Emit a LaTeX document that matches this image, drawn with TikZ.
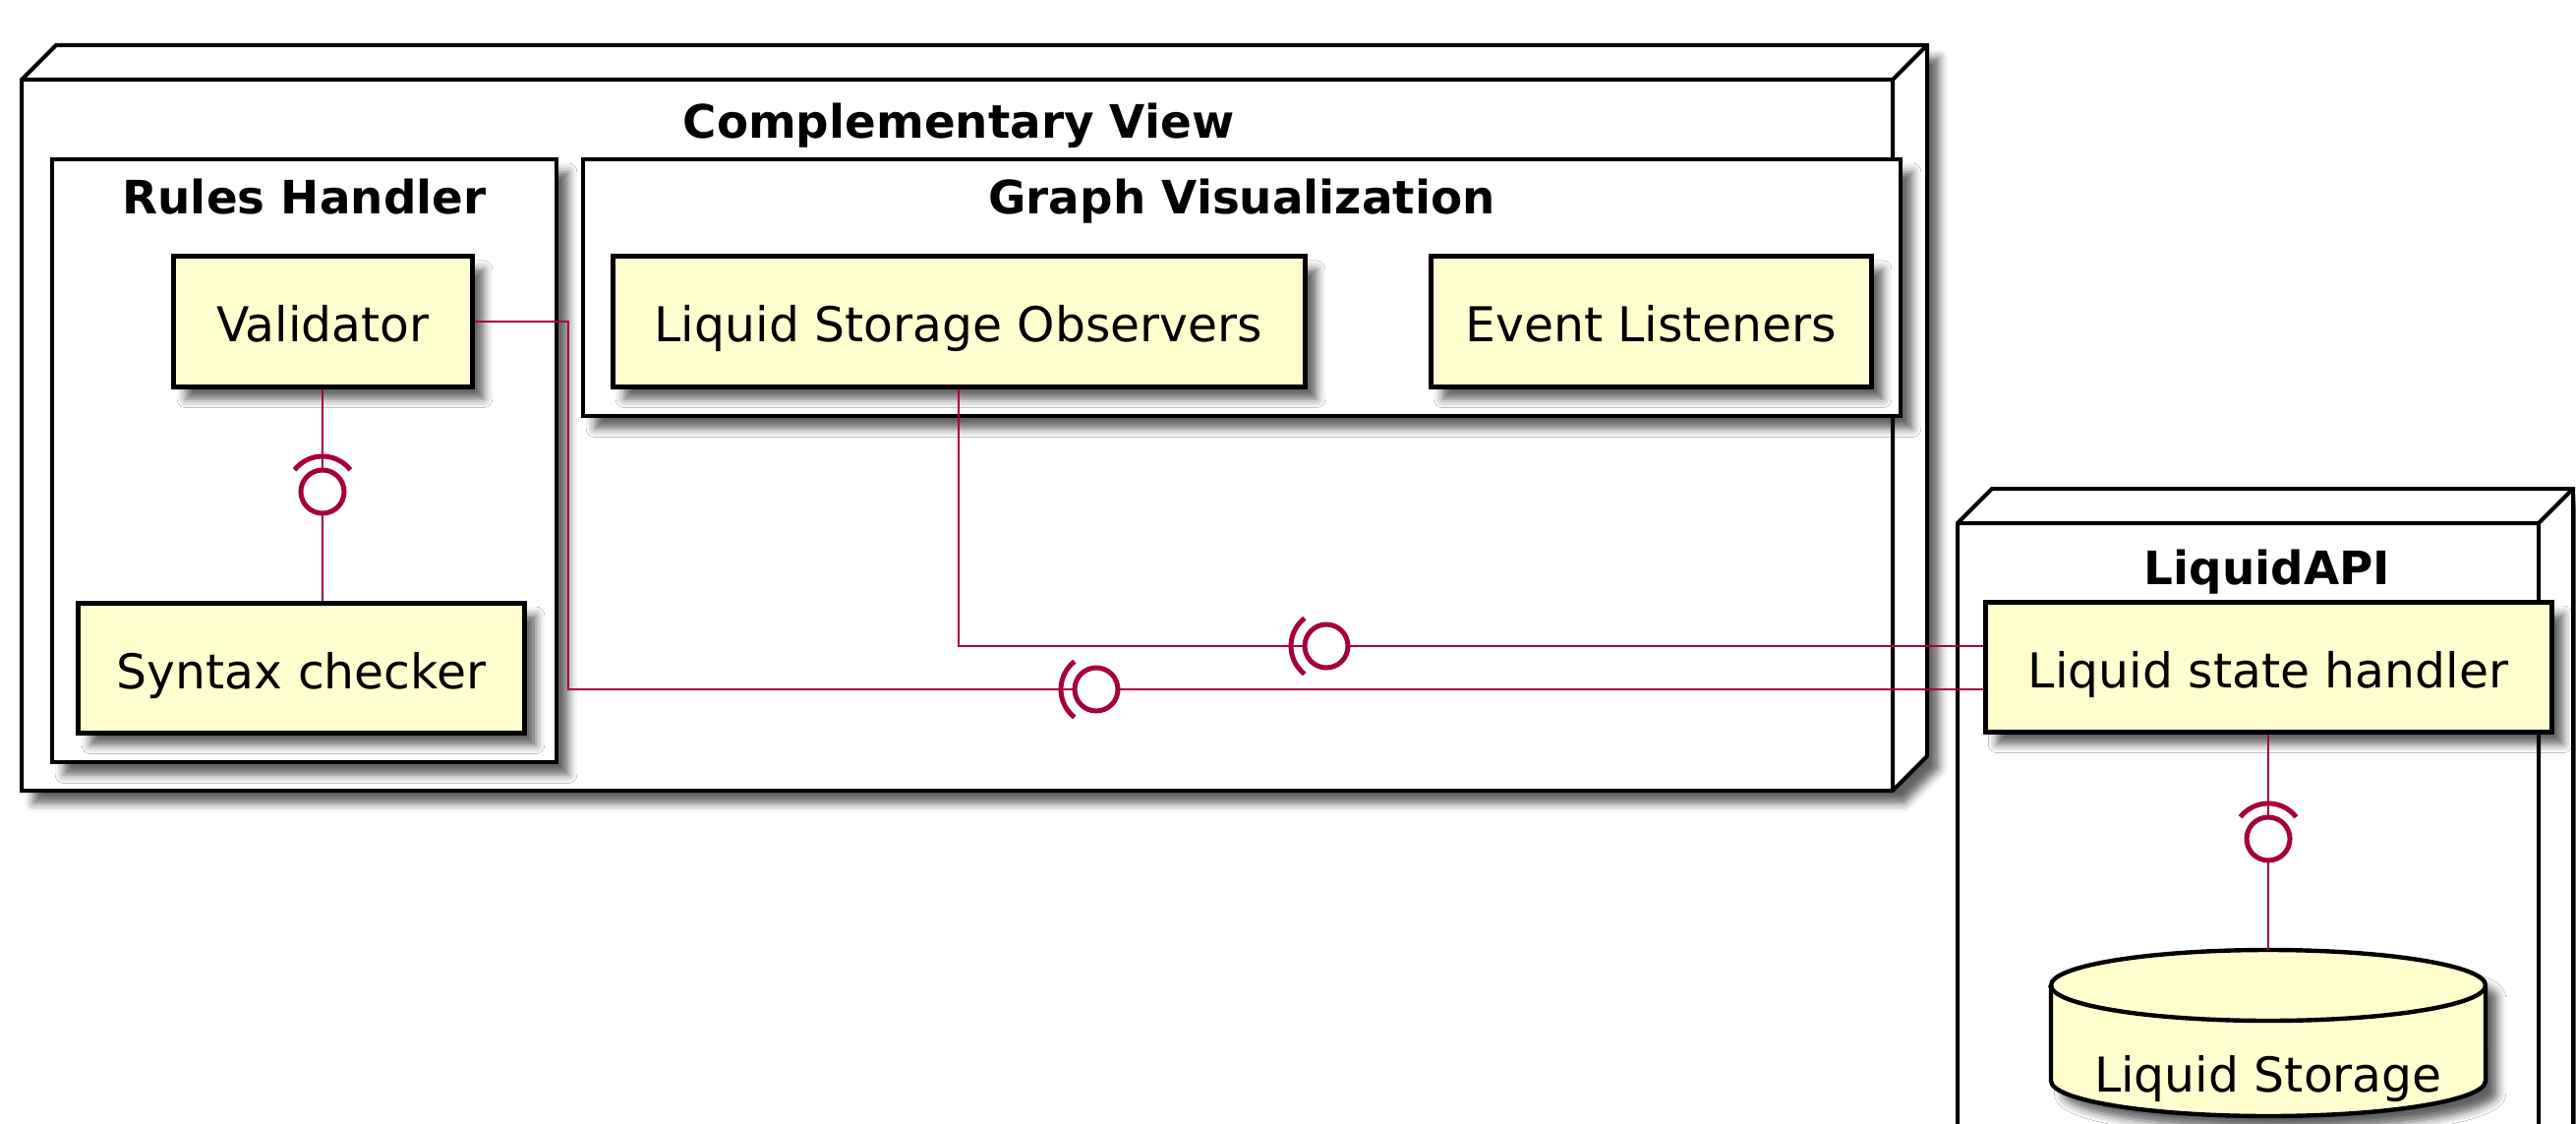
\documentclass[tikz,border=0pt]{standalone}
\usepackage{fontspec}
\setmainfont{DejaVu Sans}
\usetikzlibrary{shadows.blur}
\definecolor{boxfill}{HTML}{FEFECE}
\definecolor{conncol}{HTML}{A80036}
\begin{document}
\begin{tikzpicture}[x=0.25bp,y=0.25bp,
 shad/.style={blur shadow={shadow xshift=3bp, shadow yshift=-3.2bp, shadow blur radius=2.2bp, shadow opacity=62}},
 comp/.style={draw=black, line width=1.25bp, fill=boxfill, shad, inner sep=0pt, minimum height=33bp, text height=11bp, text depth=0.5bp, font=\fontsize{12.2bp}{14bp}\selectfont},
 ttl/.style={anchor=base, font=\fontsize{11.7bp}{14bp}\selectfont\bfseries, inner sep=0pt},
 lbl/.style={anchor=base, font=\fontsize{12.2bp}{14bp}\selectfont, inner sep=0pt},
 cont/.style={draw=black, line width=1.1bp, fill=white, shad},
 nodebox/.style={draw=black, line width=1bp, fill=white, line join=miter},
 conn/.style={draw=conncol, line width=0.7bp},
 lolli/.style={circle, draw=conncol, line width=1.25bp, minimum size=11bp, inner sep=0pt, outer sep=0pt},
 sock/.style={draw=conncol, line width=1.25bp},
]
\useasboundingbox (0,0) rectangle (2620,-1143);
\clip (0,0) rectangle (2620,-1143);

% Complementary View node
\path[nodebox, shad] (22,-81) -- (57,-46) -- (1960,-46) -- (1960,-769) -- (1925,-804) -- (22,-804) -- cycle;
\draw[line width=1bp] (22,-81) -- (1925,-81) -- (1960,-46) (1925,-81) -- (1925,-804);
\node[ttl] (cvt) at (975,-141) {Complementary View};

% Rules Handler
\path[cont] (53,-162) rectangle (566,-775);
\node[ttl] (rht) at (309.5,-218) {Rules Handler};

% Graph Visualization
\path[cont] (593,-162) rectangle (1933,-423);
\node[ttl] (gvt) at (1263,-218) {Graph Visualization};

\node[comp, minimum width=75.75bp] (val) at (328.5,-327) {Validator};
\node[comp, minimum width=113.25bp] (syn) at (306.5,-679) {Syntax checker};
\node[comp, minimum width=176bp] (lso) at (975,-327) {Liquid Storage Observers};
\node[comp, minimum width=112bp] (evl) at (1679,-327) {Event Listeners};

% LiquidAPI node
\path[nodebox, shad] (1991,-532) -- (2026,-497) -- (2617,-497) -- (2617,-1300) -- (1991,-1300) -- cycle;
\draw[line width=1bp] (1991,-532) -- (2582,-532) -- (2617,-497) (2582,-532) -- (2582,-1300);
\node[ttl] (lat) at (2306,-594) {LiquidAPI};

\node[comp, minimum width=144bp] (lsh) at (2307,-678) {Liquid state handler};

% Liquid Storage database
\path[draw=black, line width=1.1bp, fill=boxfill, shad] (2086,-1002) -- (2086,-1099)
  arc[start angle=180, end angle=360, x radius=55.25bp, y radius=9bp] -- (2528,-1002)
  arc[start angle=0, end angle=180, x radius=55.25bp, y radius=9bp] -- cycle;
\draw[black, line width=1.1bp] (2086,-1002) arc[start angle=180, end angle=360, x radius=55.25bp, y radius=9bp];
\coordinate (stortop) at (2307,-966);
\node[lbl] (stor) at (2307,-1110) {Liquid Storage};

% Connectors
\node[lolli] (o0) at (328,-500) {};
\draw[conn] (val.south -| o0) -- (o0.north);
\draw[conn] (o0.south) -- (o0.south |- syn.north);
\draw[sock] (o0.center) ++(38:9bp) arc[start angle=38, end angle=142, radius=9bp];

\node[lolli] (o1) at (1349,-657) {};
\draw[conn] (lso.south) |- (o1.west);
\draw[conn] (o1.east) -- (o1.east -| lsh.west);
\draw[sock] (o1.center) ++(128:9bp) arc[start angle=128, end angle=232, radius=9bp];

\node[lolli] (o2) at (1115,-701) {};
\coordinate (vb) at (578,-327);
\draw[conn] (val.east) -- (vb) |- (o2.west);
\draw[conn] (o2.east) -- (o2.east -| lsh.west);
\draw[sock] (o2.center) ++(128:9bp) arc[start angle=128, end angle=232, radius=9bp];

\node[lolli] (o3) at (2307,-853) {};
\draw[conn] (lsh.south) -- (o3.north);
\draw[conn] (o3.south) -- (stortop);
\draw[sock] (o3.center) ++(38:9bp) arc[start angle=38, end angle=142, radius=9bp];
\end{tikzpicture}
\end{document}
